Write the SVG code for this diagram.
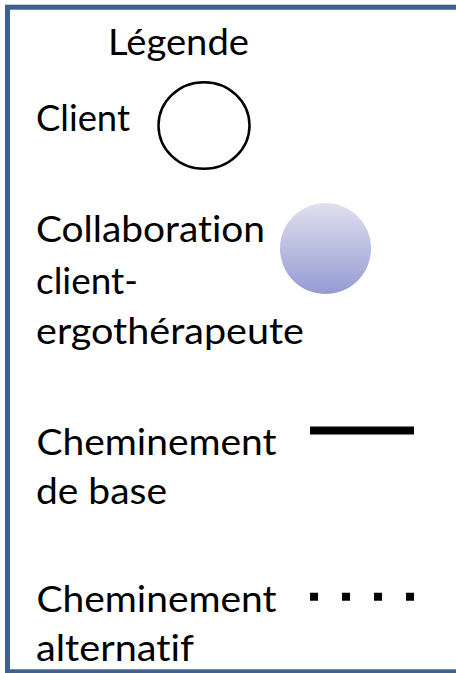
<svg xmlns="http://www.w3.org/2000/svg" width="456" height="673" viewBox="0 0 456 673">
<style>
.t{font-family:Lato,"Open Sans","Liberation Sans",sans-serif;font-size:37px;fill:#000;font-variant-ligatures:none;font-feature-settings:"liga" 0,"dlig" 0}
.sym{fill:none;stroke:#000}
</style>
<defs>
<linearGradient id="g" x1="0" y1="0" x2="0" y2="1">
<stop offset="0" stop-color="#e0e0ef"/>
<stop offset="1" stop-color="#959bd3"/>
</linearGradient>
</defs>
<rect width="456" height="673" fill="#fff"/>
<rect id="frame" x="7.5" y="7.2" width="470" height="664.6" fill="none" stroke="#3f618e" stroke-width="5"/>
<g id="title"><text class="t" x="108" y="55" textLength="141" lengthAdjust="spacingAndGlyphs">Légende</text></g>
<g id="client">
<text class="t" x="36" y="131" textLength="94" lengthAdjust="spacingAndGlyphs">Client</text>
<ellipse class="sym" cx="204" cy="125.5" rx="45.5" ry="43.3" stroke-width="2.5"/>
</g>
<g id="collaboration">
<text class="t" x="36" y="242" textLength="229" lengthAdjust="spacingAndGlyphs">Collaboration</text>
<text class="t" x="36" y="294" textLength="102" lengthAdjust="spacingAndGlyphs">client-</text>
<text class="t" x="36" y="344" textLength="268" lengthAdjust="spacingAndGlyphs">ergothérapeute</text>
<circle cx="325.5" cy="248.5" r="45.5" fill="url(#g)"/>
</g>
<g id="connectors">
<g id="base">
<text class="t" x="36.5" y="455" textLength="240" lengthAdjust="spacingAndGlyphs">Cheminement</text>
<text class="t" x="36" y="504" textLength="131" lengthAdjust="spacingAndGlyphs">de base</text>
<line class="sym" x1="310" y1="430.5" x2="414" y2="430.5" stroke-width="8"/>
</g>
<g id="alternatif">
<text class="t" x="36.5" y="611.5" textLength="240" lengthAdjust="spacingAndGlyphs">Cheminement</text>
<text class="t" x="36" y="661" textLength="158" lengthAdjust="spacingAndGlyphs">alternatif</text>
<line class="sym" x1="310" y1="596.7" x2="414" y2="596.7" stroke-width="8" stroke-dasharray="8 24"/>
</g>
</g>
</svg>
